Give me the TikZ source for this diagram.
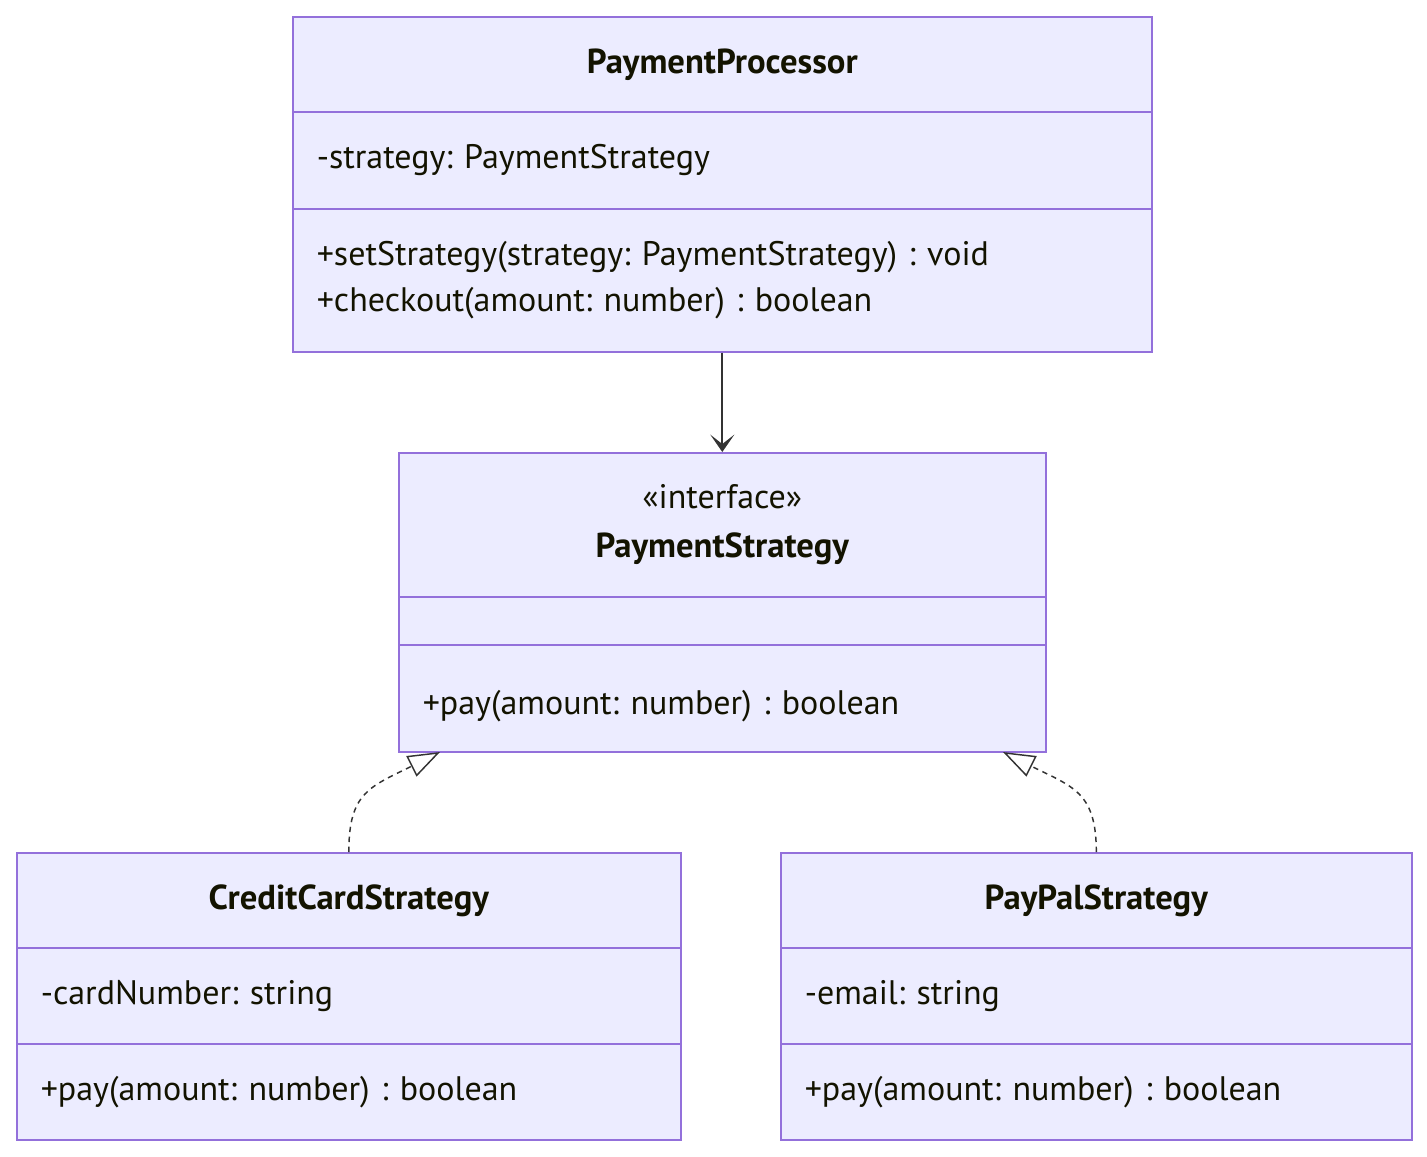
\documentclass[tikz,border=0pt]{standalone}
\usepackage{fontspec}
\setmainfont{PT Sans}
\usetikzlibrary{arrows.meta}

\definecolor{classfill}{HTML}{ECECFF}
\definecolor{classline}{HTML}{9370DB}
\definecolor{linkline}{HTML}{333333}
\definecolor{classtext}{HTML}{131300}

\tikzset{
  umlpart/.style={draw=classline, fill=classfill, line width=1.2pt, anchor=north west,
    inner xsep=18pt, inner ysep=0pt, align=left, text=classtext,
    font=\fontsize{25.5}{35}\selectfont\frenchspacing},
  umlhead/.style={align=center, font=\fontsize{26}{36.75}\selectfont\bfseries\frenchspacing},
  assoc/.style={draw=linkline, line width=1.5pt, -{Stealth[length=13pt, width=18pt, inset=7pt]}},
  realize/.style={draw=linkline, line width=1.1pt, dash pattern=on 4pt off 3.5pt,
    -{Triangle[open, length=24pt, width=17pt, line width=1.1pt]}},
}

% one compartment of a class box: style, name, x, y, width, height, text (pixels)
\newcommand{\umlpart}[7][]{%
  \pgfmathsetlengthmacro{\partw}{(#5-48)*0.75pt}%
  \pgfmathsetlengthmacro{\parth}{#6*0.75pt}%
  \node[umlpart, #1, text width=\partw, minimum height=\parth] (#2) at (#3, #4) {#7};
}

\begin{document}
\begin{tikzpicture}[x=0.75pt, y=-0.75pt]
\useasboundingbox (0,0) rectangle (1427,1156);

% PaymentProcessor
\umlpart[umlhead]{prochead}{292}{16}{859}{95}{PaymentProcessor}
\umlpart{procattr}{292}{111}{859}{97}{-strategy: PaymentStrategy}
\umlpart{procmeth}{292}{208}{859}{143}{+setStrategy(strategy: PaymentStrategy) : void\\+checkout(amount: number) : boolean}

% PaymentStrategy
\umlpart[umlhead]{strathead}{398}{452}{647}{144}{{\mdseries\fontsize{25.5}{36.75}\selectfont «interface»}\\PaymentStrategy}
\umlpart{stratattr}{398}{596}{647}{48}{}
\umlpart{stratmeth}{398}{644}{647}{107}{\raisebox{-6pt}[\height][\depth]{+pay(amount: number) : boolean}}

% CreditCardStrategy
\umlpart[umlhead]{credithead}{16}{852}{664}{95}{CreditCardStrategy}
\umlpart{creditattr}{16}{947}{664}{96}{-cardNumber: string}
\umlpart{creditmeth}{16}{1043}{664}{96}{+pay(amount: number) : boolean}

% PayPalStrategy
\umlpart[umlhead]{paypalhead}{780}{852}{631}{95}{PayPalStrategy}
\umlpart{paypalattr}{780}{947}{631}{96}{-email: string}
\umlpart{paypalmeth}{780}{1043}{631}{96}{+pay(amount: number) : boolean}

% links
\coordinate (credittip) at (440,752);
\coordinate (paypaltip) at (1003,752);

\draw[assoc] (procmeth.south) -- (strathead.north);
\draw[realize] (credithead.north) .. controls +(0,-60) and +(-70,35) .. (credittip);
\draw[realize] (paypalhead.north) .. controls +(0,-60) and +(70,35) .. (paypaltip);
\end{tikzpicture}
\end{document}
